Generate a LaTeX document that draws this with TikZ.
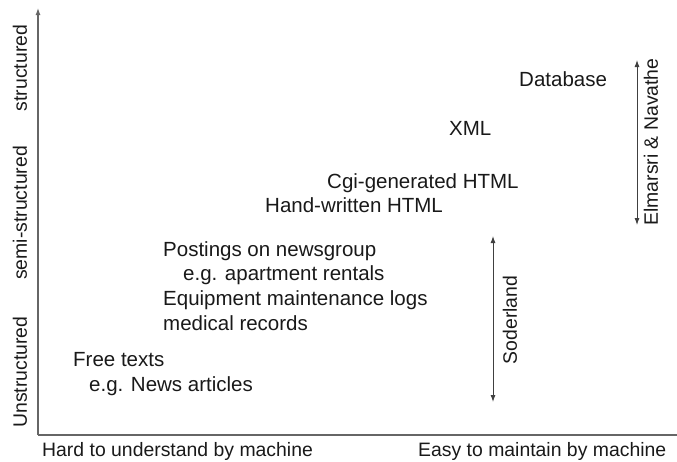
\documentclass[tikz,border=0pt]{standalone}
\usepackage{fontspec}
\setmainfont{Liberation Sans}
\usetikzlibrary{positioning,arrows.meta}
\tikzset{
    item/.style={anchor=base west, inner sep=0pt, font=\fontsize{20.5}{24}\selectfont, text=black!90},
    axis label/.style={inner sep=0pt, font=\fontsize{19.4}{23}\selectfont, text=black!90},
    axis line/.style={draw=black!60, line width=1.2pt},
    span arrow/.style={draw=black!75, line width=0.9pt, {Latex[length=7pt,width=5pt]}-{Latex[length=7pt,width=5pt]}}
}

\begin{document}
\begin{tikzpicture}[x=1pt, y=-1pt]
    \useasboundingbox (0,0) rectangle (677,461);

    % axes
    \coordinate (origin) at (38,435);
    \coordinate (ytop) at (38,8);
    \coordinate (xend) at (677,435);
    \draw[axis line, -{Latex[length=7pt,width=5pt]}] (origin) -- (ytop);
    \draw[axis line] (origin) -- (xend);

    \node[axis label, rotate=90] (structured) at (20,68) {structured};
    \node[axis label, rotate=90] (semi) at (20,213) {semi-structured};
    \node[axis label, rotate=90] (unstructured) at (20,372) {Unstructured};
    \node[axis label, anchor=base west] (hard) at (42,456) {Hard to understand by machine};
    \node[axis label, anchor=base west] (easy) at (418,456) {Easy to maintain by machine};

    % data kinds
    \node[item] (database) at (519,86) {Database};
    \node[item] (xml) at (449,135) {XML};
    \node[item] (cgi) at (327,188) {Cgi-generated HTML};
    \node[item] (handwritten) at (265,212) {Hand-written HTML};
    \node[item] (postings) at (163,256) {Postings on newsgroup};
    \node[item] (rentals) at (183,280) {e.g. apartment rentals};
    \node[item] (equipment) at (163,305) {Equipment maintenance logs};
    \node[item] (medical) at (163,330) {medical records};
    \node[item] (freetexts) at (73,366) {Free texts};
    \node[item] (news) at (89,391) {e.g. News articles};

    % ranges
    \coordinate (en top) at (637,60);
    \coordinate (en bottom) at (637,225);
    \draw[span arrow] (en top) -- (en bottom);
    \node[axis label, rotate=90] (elmasri) at (651,142) {Elmarsri \& Navathe};

    \coordinate (so top) at (493,236);
    \coordinate (so bottom) at (493,402);
    \draw[span arrow] (so top) -- (so bottom);
    \node[axis label, rotate=90] (soderland) at (510,320) {Soderland};
\end{tikzpicture}
\end{document}
